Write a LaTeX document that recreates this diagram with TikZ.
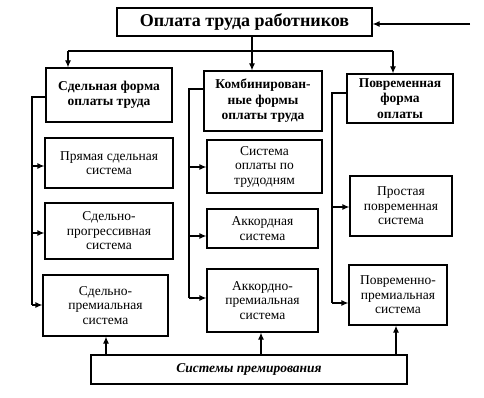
\documentclass[tikz,border=0pt]{standalone}
\usepackage{fontspec}
\setmainfont{Liberation Serif}
\usetikzlibrary{arrows.meta,calc}
\begin{document}
\begin{tikzpicture}[x=1pt,y=-1pt,
  box/.style={draw,line width=1.2pt,inner sep=1pt,align=center,font=\fontsize{13.5}{14.5}\selectfont},
  head/.style={box,font=\fontsize{13.5}{15.5}\selectfont\bfseries},
  arr/.style={line width=1.2pt,-{Latex[length=7pt,width=6pt]}},
  ln/.style={line width=1.2pt}]
\useasboundingbox (0,0) rectangle (484,398);
\node[box,minimum width=255pt,minimum height=28pt,font=\fontsize{18}{20}\selectfont\bfseries] (top) at (244.5,22) {Оплата труда работников};
\node[head,minimum width=126pt,minimum height=54pt] (b1) at (109,95) {Сдельная форма\\оплаты труда};
\node[head,minimum width=118pt,minimum height=60pt] (b2) at (263,101) {Комбинирован-\\ные формы\\оплаты труда};
\node[head,minimum width=106pt,minimum height=49pt] (b3) at (400,98.5) {Повременная\\форма\\оплаты};
\node[box,minimum width=128pt,minimum height=50pt] (l1) at (109,163) {Прямая сдельная\\система};
\node[box,minimum width=128pt,minimum height=56pt] (l2) at (109,231) {Сдельно-\\прогрессивная\\система};
\node[box,minimum width=125pt,minimum height=61pt] (l3) at (105.5,305.5) {Сдельно-\\премиальная\\система};
\node[box,minimum width=115pt,minimum height=53pt] (m1) at (264.5,166.5) {Система\\оплаты по\\трудодням};
\node[box,minimum width=111pt,minimum height=39pt] (m2) at (262.5,228.5) {Аккордная\\система};
\node[box,minimum width=111pt,minimum height=63pt] (m3) at (262.5,300.5) {Аккордно-\\премиальная\\система};
\node[box,minimum width=102pt,minimum height=60pt] (r1) at (401,206) {Простая\\повременная\\система};
\node[box,minimum width=98pt,minimum height=60pt] (r2) at (398,295) {Повременно-\\премиальная\\система};
\node[box,minimum width=316pt,minimum height=29pt,font=\fontsize{13.5}{14.5}\selectfont\bfseries\itshape] (bot) at (249,369.5) {Системы премирования};
% input arrow
\coordinate (in) at (470,24);
\draw[arr] (in) -- (in -| top.east);
% top distribution
\coordinate (hl) at (68,51);
\coordinate (hc) at (252,51);
\coordinate (hr) at (393,51);
\draw[ln] (hl) -- (hr);
\draw[arr] (hl) -- (hl |- b1.north);
\draw[arr] (hr) -- (hr |- b3.north);
\draw[arr] (hc |- top.south) -- (hc |- b2.north);
% left column
\coordinate (a1) at (32,97);
\coordinate (a2) at (32,305);
\draw[ln] (a1 -| b1.west) -- (a1) -- (a2);
\draw[arr] (32,166) -- (l1.west |- 0,166);
\draw[arr] (32,233) -- (l2.west |- 0,233);
\draw[arr] (a2) -- (a2 -| l3.west);
% middle column
\coordinate (c1) at (189,89);
\coordinate (c2) at (189,298);
\draw[ln] (c1 -| b2.west) -- (c1) -- (c2);
\draw[arr] (189,167) -- (m1.west |- 0,167);
\draw[arr] (189,236) -- (m2.west |- 0,236);
\draw[arr] (c2) -- (c2 -| m3.west);
% right column
\coordinate (e1) at (332,93);
\coordinate (e2) at (332,303);
\draw[ln] (e1 -| b3.west) -- (e1) -- (e2);
\draw[arr] (332,207) -- (r1.west |- 0,207);
\draw[arr] (e2) -- (e2 -| r2.west);
% bonus arrows
\coordinate (u1) at (106,355);
\coordinate (u2) at (261,355);
\coordinate (u3) at (396,355);
\draw[arr] (u1 |- bot.north) -- (u1 |- l3.south);
\draw[arr] (u2 |- bot.north) -- (u2 |- m3.south);
\draw[arr] (u3 |- bot.north) -- (u3 |- r2.south);
\end{tikzpicture}
\end{document}
